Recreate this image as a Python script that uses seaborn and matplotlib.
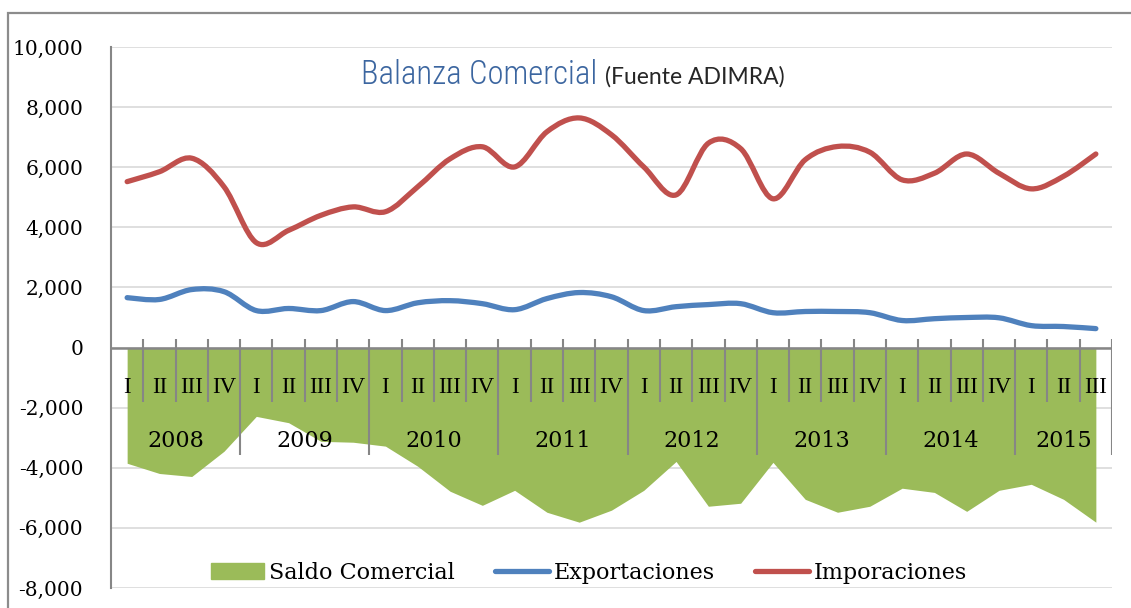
import matplotlib
matplotlib.use("Agg")
import matplotlib.pyplot as plt
from matplotlib.path import Path
from matplotlib.patches import PathPatch, Patch, Rectangle
from matplotlib.lines import Line2D
import seaborn as sns

# Data (millions USD)
years = ["2008", "2009", "2010", "2011", "2012", "2013", "2014", "2015"]
quarters = ["I", "II", "III", "IV"] * 7 + ["I", "II", "III"]
exportaciones = [1660, 1600, 1930, 1860, 1230, 1300, 1230, 1530, 1230, 1490, 1560,
                 1460, 1260, 1630, 1830, 1690, 1230, 1360, 1430, 1460, 1160, 1200,
                 1200, 1160, 900, 960, 1000, 990, 730, 700, 630]
importaciones = [5520, 5850, 6300, 5350, 3490, 3900, 4400, 4680, 4520, 5350, 6280,
                 6680, 6010, 7180, 7640, 7080, 6010, 5080, 6800, 6620, 4950, 6250,
                 6690, 6500, 5580, 5800, 6440, 5800, 5280, 5700, 6440]
saldo = [-3850, -4190, -4290, -3450, -2290, -2500, -3120, -3150, -3280, -3950, -4780,
         -5250, -4750, -5480, -5810, -5410, -4750, -3790, -5280, -5180, -3820, -5050,
         -5480, -5280, -4680, -4820, -5450, -4750, -4550, -5050, -5810]

green, blue, red = "#9BBB59", "#4F81BD", "#C0504D"
grey = "#868686"

sns.set_theme(style="white")
plt.rcParams["font.family"] = ["DejaVu Serif"]
plt.rcParams["text.color"] = "black"
plt.rcParams["ytick.labelcolor"] = "black"

fig = plt.figure(figsize=(11.31, 6.08), dpi=100)
ax = fig.add_axes([111 / 1131, 1 - 588 / 608, 1001 / 1131, 541 / 608])

x = list(range(len(quarters)))


def smooth_path(xs, ys):
    # Excel-style smoothed line: cubic bezier through every data point
    pts = list(zip(xs, ys))
    verts = [pts[0]]
    codes = [Path.MOVETO]
    n = len(pts)
    for i in range(n - 1):
        p0 = pts[i - 1] if i > 0 else pts[i]
        p1, p2 = pts[i], pts[i + 1]
        p3 = pts[i + 2] if i + 2 < n else pts[i + 1]
        c1 = (p1[0] + (p2[0] - p0[0]) / 6, p1[1] + (p2[1] - p0[1]) / 6)
        c2 = (p2[0] - (p3[0] - p1[0]) / 6, p2[1] - (p3[1] - p1[1]) / 6)
        verts += [c1, c2, p2]
        codes += [Path.CURVE4] * 3
    return Path(verts, codes)


# Saldo area
ax.fill_between(x, saldo, 0, color=green, lw=0, zorder=2)

# Smoothed lines
for vals, col in [(exportaciones, blue), (importaciones, red)]:
    ax.add_patch(PathPatch(smooth_path(x, vals), fc="none", ec=col, lw=3.8,
                           capstyle="round", joinstyle="round", zorder=4))

ax.set_xlim(-0.5, len(quarters) - 0.5)
ax.set_ylim(-8000, 10000)
ax.set_yticks(range(-8000, 10001, 2000))
ax.set_yticklabels([f"{v:,}" for v in range(-8000, 10001, 2000)], fontsize=14.5)
ax.tick_params(axis="y", length=6, width=1.2, color=grey, direction="out", pad=14)
ax.set_xticks([])
ax.yaxis.grid(True, color="#D9D9D9", lw=1.2, zorder=0)
ax.set_axisbelow(True)
for s in ["top", "right", "bottom"]:
    ax.spines[s].set_visible(False)
ax.spines["left"].set_color(grey)
ax.spines["left"].set_linewidth(1.5)

# Category axis at zero
ax.axhline(0, color=grey, lw=1.8, zorder=3)
year_start = [i for i, q in enumerate(quarters) if q == "I"]
for i in range(1, len(quarters) + 1):
    is_year = i in year_start or i == len(quarters)
    ax.plot([i - 0.5, i - 0.5], [270, -3590 if is_year else -1800],
            color=grey, lw=1.5, zorder=3, solid_capstyle="butt")
for i, q in enumerate(quarters):
    ax.text(i, -1330, q, ha="center", va="center", fontsize=16.5, zorder=5,
            family=["Liberation Serif", "DejaVu Serif"])
for k, y in enumerate(years):
    s = year_start[k]
    e = year_start[k + 1] if k + 1 < len(year_start) else len(quarters)
    ax.text((s + e - 1) / 2, -3120, y, ha="center", va="center", fontsize=16, zorder=5)

# Legend
handles = [Patch(color=green, label="Saldo Comercial"),
           Line2D([], [], color=blue, lw=3.8, solid_capstyle="round", label="Exportaciones"),
           Line2D([], [], color=red, lw=3.8, solid_capstyle="round", label="Imporaciones")]
ax.legend(handles=handles, loc="center", bbox_to_anchor=(0.4775, 0.028), ncol=3,
          frameon=False, fontsize=16, handlelength=2.4, handletextpad=0.25,
          columnspacing=1.8, borderaxespad=0)

# Title
fig.text(361 / 1131, 1 - 84 / 608, "Balanza Comercial", fontsize=23.5, color="#3C66A0",
         family=["Roboto Condensed", "DejaVu Sans"], fontstretch="condensed",
         fontweight="light", va="baseline")
fig.text(605 / 1131, 1 - 84 / 608, "(Fuente ADIMRA)", fontsize=16.5, color="#262626",
         family=["Lato", "DejaVu Sans"], va="baseline")

# Chart border
fig.add_artist(Rectangle((8 / 1131, -0.1), 1.2, 1.1 - 13 / 608, transform=fig.transFigure,
                         fill=False, ec="#8C8C8C", lw=1.6))

fig.savefig("out.png", dpi=100)
